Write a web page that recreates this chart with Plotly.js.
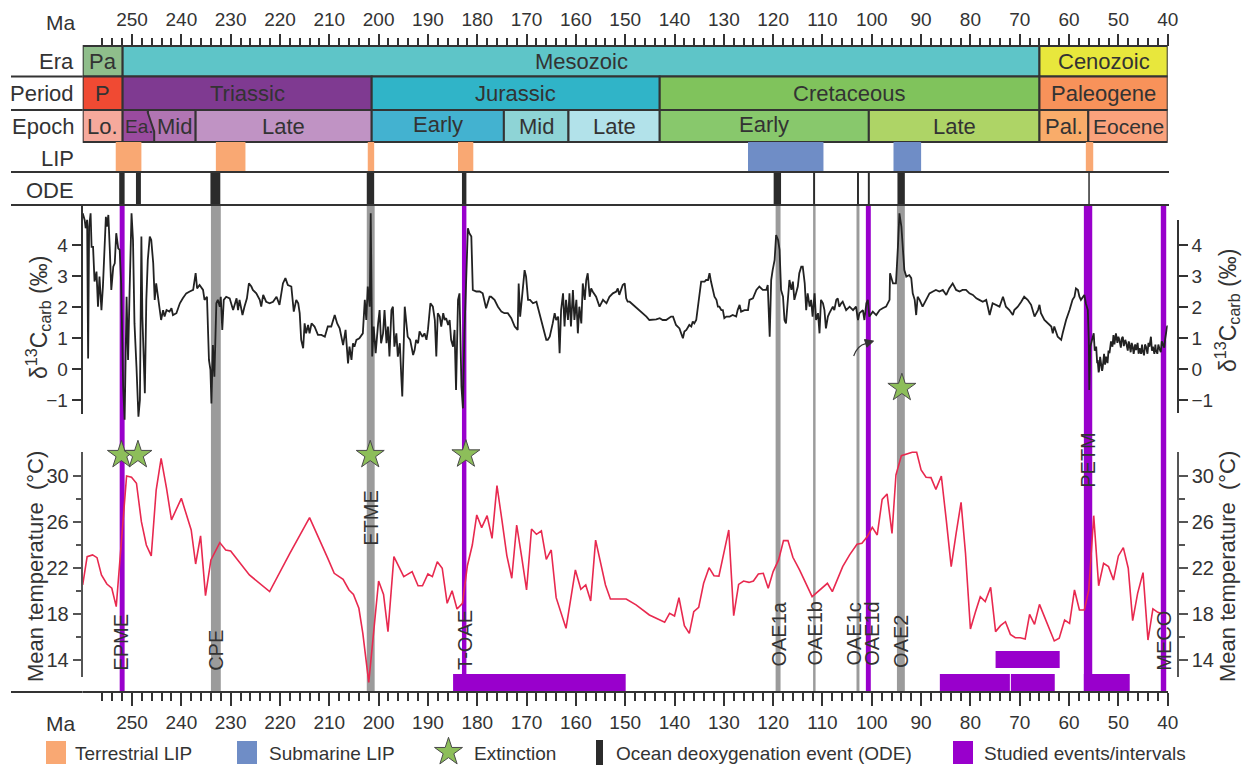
<!DOCTYPE html>
<html><head><meta charset="utf-8">
<script src="https://cdn.plot.ly/plotly-3.0.1.min.js"></script>
<style>html,body{margin:0;padding:0;background:#fff;}#chart{width:1246px;height:766px;}</style>
</head><body><div id="chart"></div>
<script>
// ---------------- DATA (ages in Ma) ----------------
const d13cAge = [
260.0,259.6,259.4,259.1,258.9,258.7,258.4,258.2,257.9,257.6,
257.2,256.9,256.6,256.2,255.9,255.3,255.1,254.8,254.5,254.2,
253.8,253.5,253.2,252.8,252.5,252.2,251.8,251.5,251.1,250.8,
250.5,250.1,249.8,249.5,249.1,248.7,248.4,248.1,247.9,247.6,
247.4,247.1,246.8,246.4,246.1,245.7,245.4,245.1,244.7,244.4,
244.1,243.7,243.4,243.0,242.4,242.0,241.7,241.0,240.3,239.7,
239.0,238.3,237.6,237.1,236.8,236.3,235.6,235.3,234.8,234.4,
234.1,233.9,233.6,233.3,232.9,232.6,232.2,232.0,231.7,231.4,
230.9,230.2,229.5,228.8,228.5,228.2,227.6,227.2,226.7,226.3,
225.8,225.5,224.8,224.1,223.8,223.4,222.8,222.1,221.4,220.7,
220.1,219.4,218.9,218.4,217.7,217.2,216.7,216.3,216.0,215.7,
215.3,215.0,214.7,214.3,214.0,213.6,213.0,212.3,211.6,210.9,
210.3,209.6,208.9,208.4,207.9,207.2,206.7,206.2,205.9,205.5,
205.2,204.9,204.5,203.9,203.2,202.8,202.5,202.2,201.8,201.6,
201.3,201.0,200.6,200.1,199.8,199.5,199.1,198.8,198.4,198.1,
197.8,197.4,197.1,196.8,196.4,196.1,195.7,195.4,195.2,194.7,
194.4,194.1,193.6,193.0,192.7,192.4,192.0,191.7,191.1,190.7,
190.3,190.0,189.5,189.0,188.6,188.3,188.0,187.6,187.3,186.9,
186.6,186.3,185.9,185.6,185.3,184.9,184.6,184.3,183.9,183.6,
183.2,182.9,182.6,182.2,181.9,181.6,181.2,180.9,180.2,179.5,
178.9,178.2,177.8,177.5,177.2,176.5,175.8,175.1,174.5,173.8,
173.1,172.4,171.8,171.6,171.3,170.7,170.4,170.1,169.7,169.3,
168.7,168.0,167.4,166.7,166.0,165.7,165.3,164.7,164.3,164.0,
163.6,163.3,163.0,162.6,162.3,162.0,161.6,161.3,161.0,160.6,
160.3,159.9,159.6,159.3,158.9,158.6,158.2,157.9,157.6,157.2,
156.9,156.6,155.9,155.2,154.5,153.8,153.2,152.5,151.8,151.5,
151.2,150.5,150.1,149.8,149.5,149.1,148.4,147.8,147.1,146.4,
145.7,145.1,144.4,143.7,143.0,142.4,141.7,141.0,140.7,140.3,
140.0,139.7,139.0,138.6,138.3,138.0,137.6,137.0,136.6,136.3,
136.0,135.6,135.3,134.9,134.6,133.9,133.6,133.2,132.9,132.6,
132.2,131.9,131.5,131.2,130.9,130.5,130.2,129.9,129.5,128.8,
128.2,127.5,127.2,126.8,126.5,125.8,125.1,124.8,124.1,123.4,
122.8,122.1,121.4,121.1,120.7,120.4,120.1,119.7,119.4,119.0,
118.7,118.4,118.0,117.7,117.4,117.0,116.7,116.3,116.0,115.7,
115.3,115.0,114.7,114.3,114.0,113.6,113.3,113.0,112.6,112.3,
112.0,111.6,111.3,110.9,110.6,110.3,109.9,109.6,109.3,108.9,
108.6,107.9,107.6,107.2,106.9,106.6,106.2,105.9,105.2,104.5,
103.8,103.2,102.8,102.5,101.8,101.5,101.1,100.8,100.5,99.8,
99.1,98.4,97.8,97.1,96.4,96.3,95.7,95.1,94.7,94.4,
94.0,93.7,93.4,93.0,92.4,92.0,91.7,91.3,91.0,90.7,
90.3,89.7,89.0,88.3,87.6,87.0,86.3,85.6,84.9,84.3,
83.6,82.9,82.2,81.6,80.9,80.2,79.5,78.8,78.2,77.5,
76.8,76.1,75.5,74.8,74.1,73.4,72.8,72.1,71.4,71.1,
70.4,69.7,69.1,68.4,67.7,67.0,66.3,66.0,65.7,65.0,
64.3,63.6,63.3,63.0,62.3,61.6,61.3,60.6,59.9,59.3,
58.9,58.6,58.2,57.9,57.6,57.2,56.9,56.6,56.2,56.0,
55.9,55.7,55.3,55.0,54.8,54.5,54.3,54.2,54.0,53.9,
53.7,53.5,53.3,53.2,52.9,52.7,52.5,52.2,52.0,51.8,
51.5,51.2,51.0,50.8,50.5,50.2,50.0,49.8,49.5,49.3,
49.1,48.9,48.6,48.4,48.1,47.9,47.8,47.5,47.3,47.1,
46.9,46.6,46.4,46.1,45.9,45.7,45.4,45.2,45.1,44.8,
44.6,44.4,44.1,43.9,43.7,43.4,43.2,43.0,42.7,42.5,
42.4,42.1,41.9,41.7,41.4,41.2,41.0,40.7,40.5,40.3,
40.1,40.0];
const d13cVal = [
5.03,4.82,4.55,4.82,0.35,4.60,5.03,3.95,3.95,2.83,
3.15,2.02,2.99,1.91,2.67,4.92,4.60,4.98,3.85,2.56,
3.31,3.42,4.39,3.90,3.85,2.77,-0.56,-1.63,2.34,0.30,
2.45,5.03,4.17,1.48,0.09,-1.53,-0.99,4.28,1.70,0.09,
-0.77,2.24,3.53,4.28,4.17,3.42,2.24,2.77,2.24,2.02,
1.59,1.91,1.70,1.91,1.86,1.97,1.75,1.81,2.13,2.29,
2.45,2.51,2.56,3.10,2.61,2.72,2.56,2.24,2.34,0.30,
-0.02,-1.10,0.78,-0.24,2.13,2.24,2.02,2.34,1.27,2.24,
2.34,2.29,1.91,2.29,1.91,2.24,1.75,2.02,2.29,2.77,
2.67,2.56,2.45,2.24,2.02,2.40,2.18,2.13,2.18,2.34,
2.08,2.77,2.94,2.72,2.67,1.86,2.24,2.13,1.81,0.95,
0.68,1.48,1.16,1.43,1.16,1.48,1.38,1.11,1.11,1.05,
1.38,1.38,1.75,1.48,1.32,0.78,1.27,0.19,0.73,0.30,
0.84,0.73,0.95,1.00,1.16,2.24,1.59,2.67,2.02,5.03,
0.41,1.38,0.52,1.48,1.91,0.84,1.16,1.91,0.84,1.38,
0.41,1.91,2.02,0.73,1.16,0.41,0.84,-0.24,-0.88,2.02,
1.38,1.05,0.95,0.46,0.62,0.95,0.84,1.22,1.05,1.16,
0.95,1.27,2.13,2.02,1.59,0.41,1.81,1.70,1.38,1.81,
1.59,1.65,1.43,1.59,0.95,0.73,1.27,-0.67,2.24,2.45,
-0.56,-1.26,1.16,3.63,4.55,4.39,4.28,2.56,2.51,2.51,
2.45,1.97,2.24,2.34,2.34,2.24,2.02,1.86,1.81,1.81,
1.65,1.38,1.27,2.77,1.70,2.67,3.20,2.99,2.24,2.24,
2.13,2.18,1.81,1.43,0.95,0.95,1.05,1.48,1.81,1.59,
1.70,0.52,1.91,2.45,1.38,2.24,1.59,2.45,1.38,2.56,
1.59,2.24,1.16,2.02,1.48,2.77,2.24,2.88,3.10,2.34,
2.61,2.51,2.34,2.02,2.24,2.13,2.34,2.45,2.51,2.61,
2.40,2.72,2.77,2.29,2.18,2.18,2.08,2.02,1.91,1.81,
1.70,1.59,1.59,1.61,1.65,1.59,1.59,1.65,1.70,1.70,
1.54,1.43,1.32,1.16,1.00,1.22,1.27,1.43,1.38,1.54,
1.48,1.59,2.02,2.45,2.83,2.83,2.88,2.88,3.10,2.83,
2.51,2.34,2.24,2.02,2.02,1.91,1.91,1.65,1.70,1.70,
1.75,1.70,1.91,2.08,1.86,1.91,1.91,2.24,2.29,2.56,
2.67,2.56,2.56,2.72,1.05,2.88,3.20,3.53,4.33,4.17,
3.85,2.56,2.34,1.59,1.48,2.24,2.88,2.56,2.83,2.24,
2.45,2.67,3.10,3.31,3.31,2.77,1.91,2.45,2.02,2.24,
1.70,2.45,1.59,1.81,1.16,2.24,2.13,1.91,1.32,1.70,
1.81,2.02,1.91,2.24,2.29,2.02,2.13,2.18,1.91,2.02,
1.91,2.02,1.59,1.81,1.91,1.59,2.13,2.24,1.70,1.86,
1.75,1.91,1.97,2.02,2.24,3.10,2.77,2.77,3.95,5.03,
4.60,3.95,3.20,2.99,3.04,2.94,2.45,2.24,1.75,2.34,
2.24,2.02,2.24,2.45,2.51,2.56,2.51,2.56,2.40,2.61,
2.77,2.56,2.51,2.56,2.56,2.45,2.40,2.29,2.24,2.18,
2.24,1.75,2.13,2.08,2.02,2.34,2.02,1.91,1.75,1.91,
2.02,2.18,2.34,2.24,2.08,1.70,1.91,2.08,1.81,1.59,
1.48,1.38,1.16,1.38,1.05,0.95,1.16,1.59,1.91,2.24,
2.34,2.61,2.56,2.34,2.24,2.34,2.40,2.13,1.91,0.95,
-0.67,0.73,0.95,1.16,0.60,0.73,0.20,0.30,-0.10,-0.02,
0.40,0.19,-0.05,0.03,0.50,0.15,0.41,0.20,0.60,0.52,
0.90,0.73,1.10,0.80,1.16,0.85,1.05,0.95,0.70,1.00,
1.05,0.75,0.95,0.84,0.60,0.90,0.84,0.55,0.85,0.73,
0.50,0.80,0.62,0.85,0.50,0.68,0.50,0.80,0.62,0.45,
0.80,0.73,0.50,0.85,0.73,1.05,0.60,0.73,0.50,0.80,
0.62,0.50,0.80,0.68,0.55,0.90,0.84,0.70,1.00,1.16,
1.40,1.38];

const tempAge = [
260.0,259.1,258.0,257.1,256.2,255.1,254.1,253.2,251.1,250.1,
249.1,248.1,247.1,246.1,245.1,244.1,243.0,242.0,240.0,238.0,
237.1,236.1,235.1,234.0,232.2,231.0,230.0,226.2,222.1,218.0,
214.0,211.9,210.3,209.0,207.2,206.0,205.1,204.0,203.2,202.0,
200.0,199.0,198.1,196.9,194.9,193.2,192.0,191.1,190.0,189.1,
188.1,187.1,186.1,185.1,184.1,183.0,182.0,181.0,180.1,179.1,
178.0,177.0,176.0,175.0,174.0,173.0,172.0,171.0,170.0,169.0,
168.0,167.0,166.0,165.0,164.0,162.0,160.1,159.0,158.0,157.0,
156.0,154.0,153.0,149.8,147.8,145.1,142.0,141.0,140.0,139.1,
138.0,137.0,136.1,135.1,134.1,133.0,132.0,131.0,130.0,129.0,
128.0,127.0,126.0,124.9,124.0,123.0,122.0,121.0,120.0,118.9,
117.9,117.0,116.0,114.65,112.1,110.6,109.0,108.0,105.9,104.5,
103.0,102.0,100.9,99.9,98.9,97.9,96.9,95.9,95.1,94.0,
92.9,91.8,90.9,90.0,89.0,88.0,87.0,85.9,84.9,83.9,
82.9,81.9,81.0,80.0,79.0,78.0,77.0,75.9,74.9,73.9,
72.9,71.9,70.9,69.9,68.9,68.0,67.0,66.0,65.0,64.0,
63.0,62.0,60.9,59.9,58.9,57.9,56.9,56.0,55.0,54.0,
53.0,52.0,51.0,50.0,49.0,48.0,47.1,46.1,45.0,44.0,
43.0,42.0,41.0];
const tempVal = [
20.50,22.96,23.11,22.87,21.37,20.58,20.21,18.61,29.97,29.86,
29.34,26.00,23.97,23.02,28.75,31.51,28.90,26.15,28.03,25.28,
22.32,24.76,19.57,22.67,24.18,23.54,23.45,21.37,19.92,23.25,
26.35,24.40,22.81,21.51,20.99,20.06,19.68,18.47,16.29,12.03,
20.84,19.68,16.44,22.96,21.22,21.66,20.43,20.43,21.45,21.22,
22.52,21.95,18.90,20.00,18.41,18.90,22.17,23.97,26.58,25.48,
26.52,24.55,29.13,26.15,23.05,21.08,25.71,22.96,20.06,25.36,
24.90,25.19,22.73,23.54,19.39,16.73,21.80,20.12,20.50,19.11,
24.40,20.50,19.28,19.28,18.76,17.89,17.25,18.03,17.80,19.39,
16.96,16.29,18.17,18.55,20.64,22.00,21.30,21.27,23.25,25.28,
17.83,20.55,20.84,20.72,20.84,21.45,21.51,20.21,21.66,22.67,
24.35,24.35,22.90,21.80,19.48,20.06,20.64,19.92,22.09,23.11,
24.03,24.12,24.70,25.51,24.84,27.94,28.41,24.98,30.06,31.74,
31.86,32.03,32.03,30.50,29.86,29.83,28.81,29.97,26.15,22.09,
24.98,27.68,23.25,16.67,18.12,19.48,19.05,20.29,16.44,16.96,
17.30,16.20,15.91,15.91,15.80,17.94,17.07,18.81,17.74,16.73,
15.63,15.86,17.45,17.16,20.06,18.32,18.32,20.06,26.52,20.43,
22.38,22.09,20.93,23.02,23.74,21.95,17.39,19.77,21.57,15.71,
18.41,18.12,17.97];

// Geological time scale
const eraLabels = ['Pa','Mesozoic','Cenozoic'];
const eraFrom = [260, 251.9, 66];
const eraTo = [251.9, 66, 40];
const periodLabels = ['P','Triassic','Jurassic','Cretaceous','Paleogene'];
const periodFrom = [260, 251.9, 201.4, 143, 66];
const periodTo = [251.9, 201.4, 143, 66, 40];
const epochLabels = ['Lo.','Ea.','Mid','Late','Early','Mid','Late','Early','Late','Pal.','Eocene'];
const epochFrom = [260, 251.9, 246.8, 237.1, 201.4, 174.6, 161.5, 143, 100.6, 66, 56.1];
const epochTo = [251.9, 246.8, 237.1, 201.4, 174.6, 161.5, 143, 100.6, 66, 56.1, 40];

// Large igneous provinces
const terrLipFrom = [253.3, 233.0, 202.2, 183.9, 56.6];
const terrLipTo = [248.1, 227.0, 200.9, 180.8, 55.1];
const subLipFrom = [125.1, 95.6];
const subLipTo = [109.8, 90.0];

// Ocean deoxygenation events
const odeFrom = [252.6, 249.2, 234.1, 202.4, 183.1, 119.9, 111.9, 103.0, 100.8, 94.8, 56.1];
const odeTo = [251.5, 248.2, 232.1, 200.9, 182.2, 118.4, 111.5, 102.6, 100.4, 93.3, 55.8];

// Events (vertical bands)
const eventNames = ['EPME','CPE','ETME','T-OAE','OAE1a','OAE1b','OAE1c','OAE1d','OAE2','PETM','MECO'];
const eventFrom = [252.5, 234.0, 202.4, 183.1, 119.5, 111.9, 103.1, 101.2, 94.9, 57.0, 41.4];
const eventTo = [251.5, 232.0, 200.8, 182.2, 118.5, 111.4, 102.5, 100.2, 93.3, 55.3, 40.3];
const eventStudied = [true, false, false, true, false, false, false, true, false, true, true];

// Studied intervals (horizontal bars)
const studiedFrom = [184.9, 86.2, 71.8, 74.9, 57.0];
const studiedTo = [149.9, 72.0, 62.9, 61.9, 47.7];

// Extinctions (stars)
const extAgeT = [252.15, 248.8, 201.7, 182.3];
const extValT = [31.8, 31.8, 31.8, 31.85];
const extAgeC = [93.9];
const extValC = [-0.6];

const majorTicks = [250,240,230,220,210,200,190,180,170,160,150,140,130,120,110,100,90,80,70,60,50,40];
const minorTicks = [];
for (let m = 256; m >= 42; m -= 2) minorTicks.push(m);

// ---------------- LAYOUT HELPERS ----------------
const W = 1246, H = 766;
const px = v => v / W;
const py = v => 1 - v / H;
const INK = '#333333';
const FONT = 'Liberation Sans, Arial, Helvetica, sans-serif';
const PURPLE = '#9900CC', GREY = '#9B9B9B', BLACK = '#2B2B2B';
const TERR = '#F9A873', SUB = '#6F8DC6', STAR = '#8DBE5A';

const eraColors = ['#8FBE8B','#5EC5C8','#E8E73C'];
const periodColors = ['#F04A33','#7F3A91','#30B4C8','#80C35C','#F8925A'];
const epochColors = ['#F6A99C','#9A4B9F','#B175B3','#C093C4','#43B2D0','#8ED4D6','#B2E2EA','#88C86C','#AED466','#F9AC6A','#FAA27C'];

const eventLabelAge = [252.3, 233.0, 201.6, 182.5, 118.9, 111.6, 103.7, 100.0, 94.1, 56.2, 40.8];
const eventLabelY = [642, 650, 518, 640, 634, 634, 634, 634, 641, 460, 641];
const studiedRow = [0, 0, 0, 1, 0];

const shapes = [];
const ann = [];
const border = {color: INK, width: 2};

function band(x0, x1, top, bottom, fill, line, layer) {
  shapes.push({type:'rect', xref:'x', yref:'paper', x0:x0, x1:x1, y0:py(bottom), y1:py(top),
    fillcolor:fill, line: line || {width:0}, layer: layer || 'below'});
}
function hline(x0, x1, y) {
  shapes.push({type:'line', xref:'paper', yref:'paper', x0:px(x0), x1:px(x1), y0:py(y), y1:py(y), line:border, layer:'above'});
}
function txt(x, y, text, size, opts) {
  ann.push(Object.assign({xref:'paper', yref:'paper', x:px(x), y:py(y), text:text, showarrow:false,
    font:{family:FONT, size:size, color:INK}, xanchor:'center', yanchor:'middle'}, opts || {}));
}
function boxText(x, y, text, size) {
  ann.push({xref:'x', yref:'paper', x:x, y:py(y), text:text, showarrow:false,
    font:{family:FONT, size:size, color:INK}, xanchor:'center', yanchor:'middle'});
}

// Event bands (behind curves)
for (let i = 0; i < eventNames.length; i++) {
  band(eventFrom[i], eventTo[i], 205, 692, eventStudied[i] ? PURPLE : GREY);
}
// Studied intervals
for (let i = 0; i < studiedFrom.length; i++) {
  const r = studiedRow[i];
  band(studiedFrom[i], studiedTo[i], r === 0 ? 674 : 651, r === 0 ? 691 : 668, PURPLE);
}
// Header boxes
for (let i = 0; i < eraLabels.length; i++) {
  band(eraFrom[i], eraTo[i], 46, 76.5, eraColors[i], border, 'above');
  boxText((eraFrom[i] + eraTo[i]) / 2, 61, eraLabels[i], 22);
}
for (let i = 0; i < periodLabels.length; i++) {
  band(periodFrom[i], periodTo[i], 76.5, 110, periodColors[i], border, 'above');
  boxText((periodFrom[i] + periodTo[i]) / 2, 93.5, periodLabels[i], 22);
}
for (let i = 0; i < epochLabels.length; i++) {
  if (i === 1) continue;
  band(epochFrom[i], epochTo[i], 110, 142, epochColors[i], border, 'above');
}
// Early Triassic with stepped boundary
shapes.push({type:'path', xref:'x', yref:'paper', layer:'above', fillcolor: epochColors[1], line: border,
  path: `M${epochFrom[1]},${py(110)} L${epochTo[1]},${py(110)} L${epochTo[1]},${py(112.7)} L245.5,${py(131.7)} L245.5,${py(142)} L${epochFrom[1]},${py(142)} Z`});
const epochTextAge = [255.95, 248.4, 241.3, 219.25, 188.0, 168.05, 152.25, 121.8, 83.3, 61.05, 48.05];
for (let i = 0; i < epochLabels.length; i++) {
  boxText(epochTextAge[i], i === 4 || i === 7 ? 125 : 126.5, epochLabels[i], i === 1 ? 19 : (i === 10 ? 21 : 22));
}
// LIP row
for (let i = 0; i < terrLipFrom.length; i++) band(terrLipFrom[i], terrLipTo[i], 142, 172, TERR, null, 'above');
for (let i = 0; i < subLipFrom.length; i++) band(subLipFrom[i], subLipTo[i], 142, 172, SUB, null, 'above');
// ODE row
for (let i = 0; i < odeFrom.length; i++) band(odeFrom[i], odeTo[i], 172, 205, BLACK, null, 'above');

// separator lines
hline(11, 82.7, 76.5);
hline(11, 82.7, 110);
hline(11, 1169, 172);
hline(11, 1169, 205);
hline(11, 82.7, 692);

// row labels
[['Era',61],['Period',93.5],['Epoch',126],['LIP',158],['ODE',190]].forEach(r => txt(76, r[1], r[0], 22, {xanchor:'right'}));
txt(61, 22, 'Ma', 21);
txt(61, 723, 'Ma', 21);

// event labels
for (let i = 0; i < eventNames.length; i++) {
  ann.push({xref:'x', yref:'paper', x:eventLabelAge[i], y:py(eventLabelY[i]), text:eventNames[i], textangle:-90,
    showarrow:false, font:{family:FONT, size:20, color:INK}, xanchor:'center', yanchor:'middle'});
}

// axis titles
const d13Title = 'δ<sup>13</sup>C<sub>carb</sub> (‰)';
txt(38, 318, d13Title, 23, {textangle:-90});
txt(1227, 311, d13Title, 23, {textangle:-90});
txt(35, 567, 'Mean temperature  (°C)', 22, {textangle:-90});
txt(1227, 567, 'Mean temperature  (°C)', 22, {textangle:-90});

// small curved arrow pointing at OAE1d (in d13C axis units)
shapes.push({type:'path', xref:'x', yref:'y', layer:'above', line:{color:INK, width:1.2},
  path:'M103.67,0.43 Q102.86,0.78 101.24,0.83'});
shapes.push({type:'path', xref:'x', yref:'y', layer:'above', fillcolor:INK, line:{color:INK, width:1},
  path:'M99.64,0.91 L101.0,0.71 L101.48,0.96 Z'});

// legend
shapes.push({type:'rect', xref:'paper', yref:'paper', x0:px(46), x1:px(66), y0:py(764), y1:py(741), fillcolor:TERR, line:{width:0}});
shapes.push({type:'rect', xref:'paper', yref:'paper', x0:px(237), x1:px(257), y0:py(764), y1:py(741), fillcolor:SUB, line:{width:0}});
shapes.push({type:'rect', xref:'paper', yref:'paper', x0:px(596), x1:px(603), y0:py(765), y1:py(740), fillcolor:BLACK, line:{width:0}});
shapes.push({type:'rect', xref:'paper', yref:'paper', x0:px(953), x1:px(973), y0:py(764), y1:py(741), fillcolor:PURPLE, line:{width:0}});
txt(73, 753, 'Terrestrial LIP', 19, {xanchor:'left'});
txt(267, 753, 'Submarine LIP', 19, {xanchor:'left'});
txt(472, 753, 'Extinction', 19, {xanchor:'left'});
txt(614, 753, 'Ocean deoxygenation event (ODE)', 19, {xanchor:'left'});
txt(982, 753, 'Studied events/intervals', 19, {xanchor:'left'});

// ---------------- AXES ----------------
const xDom = [px(82.7), px(1167.7)];
const tickBase = {ticks:'outside', tickwidth:2, tickcolor:INK, showgrid:false, zeroline:false, fixedrange:true,
  tickfont:{family:FONT, color:INK}};
const layout = {
  width: W, height: H, margin:{l:0, r:0, t:0, b:0}, paper_bgcolor:'#ffffff', plot_bgcolor:'rgba(0,0,0,0)',
  showlegend:false, font:{family:FONT, color:INK},
  xaxis: Object.assign({}, tickBase, {domain:xDom, range:[260,40], anchor:'free', position:py(692), side:'bottom',
    showline:true, linecolor:INK, linewidth:2, ticklen:13, tickmode:'array', tickvals:majorTicks,
    tickfont:{family:FONT, size:19, color:INK},
    minor:{tickmode:'array', tickvals:minorTicks, ticks:'outside', ticklen:8, tickwidth:2, tickcolor:INK}}),
  xaxis2: Object.assign({}, tickBase, {overlaying:'x', range:[260,40], anchor:'free', position:py(46), side:'top',
    showline:false, ticklen:12, tickmode:'array', tickvals:majorTicks,
    tickfont:{family:FONT, size:19, color:INK},
    minor:{tickmode:'array', tickvals:minorTicks, ticks:'outside', ticklen:8, tickwidth:2, tickcolor:INK}}),
  xaxis3: {domain:[0,1], range:[0,W], visible:false, anchor:'y7', fixedrange:true},
  // d13C data axis
  yaxis: {domain:[py(440), py(205)], range:[-2.281, 5.300], visible:false, anchor:'x', fixedrange:true},
  // d13C visible left
  yaxis2: Object.assign({}, tickBase, {domain:[py(414), py(205)], range:[-1.442, 5.300], anchor:'x', side:'left',
    showline:true, linecolor:INK, linewidth:2, ticklen:9, tickmode:'array', tickvals:[-1,0,1,2,3,4],
    tickfont:{family:FONT, size:19, color:INK}}),
  // d13C visible right
  yaxis3: Object.assign({}, tickBase, {domain:[py(413), py(220)], range:[-1.410, 4.816], anchor:'free', position:px(1177.7), side:'right',
    showline:true, linecolor:INK, linewidth:2, ticklen:9, tickmode:'array', tickvals:[-1,0,1,2,3,4],
    tickfont:{family:FONT, size:19, color:INK}}),
  // temperature data axis
  yaxis4: {domain:[py(692), py(430)], range:[11.19, 33.97], visible:false, anchor:'x', fixedrange:true},
  yaxis5: Object.assign({}, tickBase, {domain:[py(677), py(452)], range:[12.496, 32.061], anchor:'x', side:'left',
    showline:true, linecolor:'#555', linewidth:2, ticklen:8, tickmode:'array', tickvals:[14,18,22,26,30], tickcolor:'#555',
    tickfont:{family:FONT, size:20, color:INK},
    minor:{tickmode:'array', tickvals:[16,20,24,28], ticks:'outside', ticklen:5, tickwidth:2, tickcolor:'#555'}}),
  yaxis6: Object.assign({}, tickBase, {domain:[py(677), py(452)], range:[12.496, 32.061], anchor:'free', position:px(1177.7), side:'right',
    showline:true, linecolor:'#555', linewidth:2, ticklen:9, tickmode:'array', tickvals:[14,18,22,26,30], tickcolor:'#555',
    tickfont:{family:FONT, size:20, color:INK},
    minor:{tickmode:'array', tickvals:[16,20,24,28], ticks:'outside', ticklen:6, tickwidth:2, tickcolor:'#555'}}),
  yaxis7: {domain:[0,1], range:[H,0], visible:false, anchor:'x3', fixedrange:true},
  shapes: shapes,
  annotations: ann
};

const starMarker = {symbol:'star', size:21, color:STAR, line:{color:'#4A4A4A', width:1}};
// invisible carriers so that the secondary axes get drawn
const carrier = (xa, ya, xs, ys) => ({type:'scatter', mode:'none', x:xs, y:ys, xaxis:xa, yaxis:ya, hoverinfo:'skip'});
const traces = [
  carrier('x2', 'y', d13cAge, d13cVal),
  carrier('x', 'y2', d13cAge, d13cVal),
  carrier('x', 'y3', d13cAge, d13cVal),
  carrier('x', 'y5', tempAge, tempVal),
  carrier('x', 'y6', tempAge, tempVal),
  {type:'scatter', mode:'lines', x:d13cAge, y:d13cVal, xaxis:'x', yaxis:'y', line:{color:'#222222', width:1.8}, hoverinfo:'skip'},
  {type:'scatter', mode:'lines', x:tempAge, y:tempVal, xaxis:'x', yaxis:'y4', line:{color:'#E8294F', width:1.6}, hoverinfo:'skip'},
  {type:'scatter', mode:'markers', x:extAgeT, y:extValT, xaxis:'x', yaxis:'y4', marker:starMarker, cliponaxis:false, hoverinfo:'skip'},
  {type:'scatter', mode:'markers', x:extAgeC, y:extValC, xaxis:'x', yaxis:'y', marker:starMarker, cliponaxis:false, hoverinfo:'skip'},
  {type:'scatter', mode:'markers', x:[448.5], y:[752], xaxis:'x3', yaxis:'y7', marker:starMarker, cliponaxis:false, hoverinfo:'skip'}
];

Plotly.newPlot('chart', traces, layout, {staticPlot:true, displayModeBar:false});
</script>
</body></html>
